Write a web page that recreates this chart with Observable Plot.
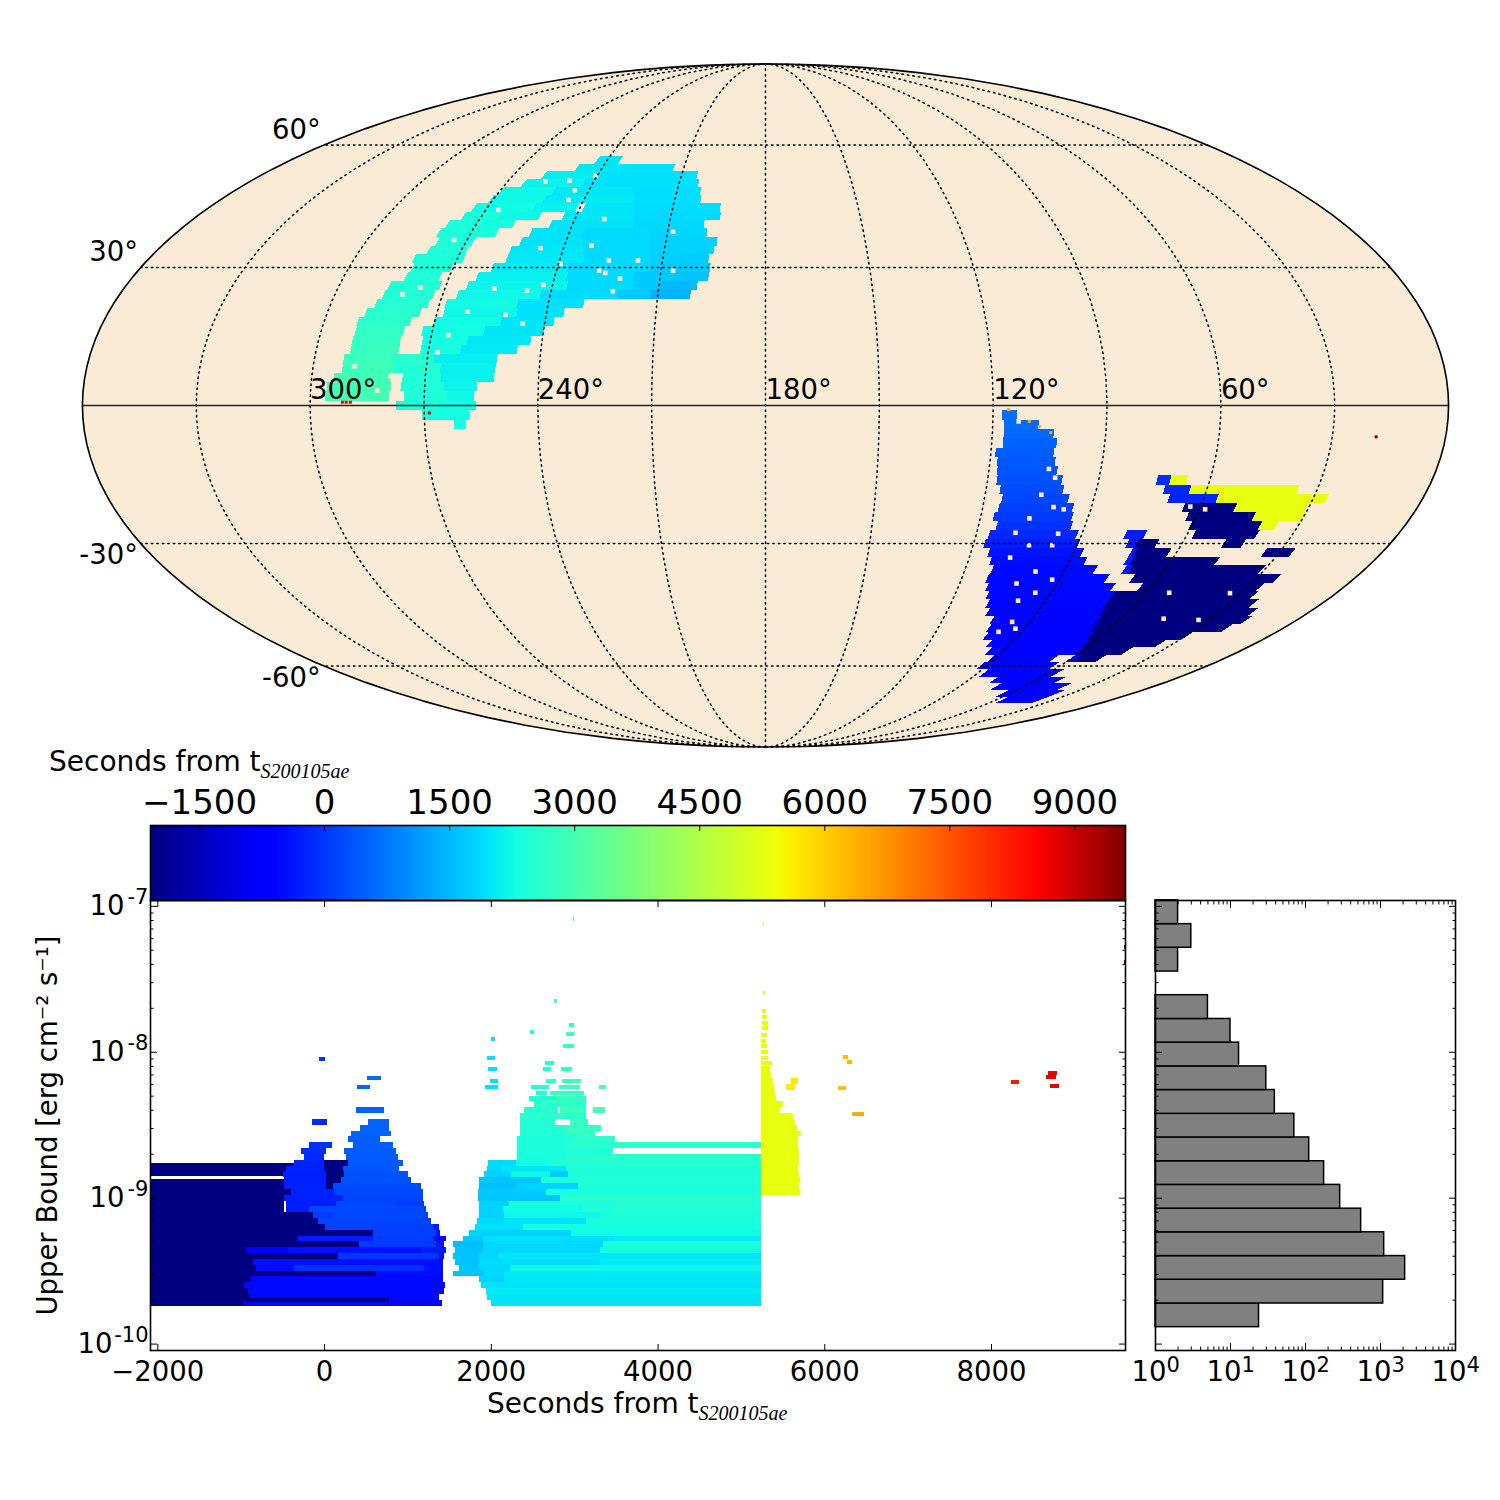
<!DOCTYPE html>
<html>
<head>
<meta charset="utf-8">
<script src="https://cdn.jsdelivr.net/npm/d3@7"></script>
<script src="https://cdn.jsdelivr.net/npm/@observablehq/plot@0.6"></script>
<style>
html,body{margin:0;padding:0;background:#fff;width:1500px;height:1500px;overflow:hidden}
#root{position:relative;width:1500px;height:1500px;font-family:'DejaVu Sans',sans-serif}
#root>svg,#root>div{position:absolute}
.lbl{font-size:28px;color:#000;white-space:nowrap;line-height:32px}
.lbl span{font-family:'Liberation Serif',serif;font-style:italic;font-size:20px;position:relative;top:7px}
</style>
</head>
<body>
<div id="root"></div>
<script>
const N = -2088; // navy end of the colour bar
// Time domain and jet colour map
const tMin = -2088, tMax = 9607;
const jetStops = [0,.11,.125,.34,.35,.375,.64,.65,.66,.89,.91,1];
const jetColors = ["#000080","#0000ff","#0000ff","#00dbff","#00e6f7","#15ffe2","#eeff08","#f7f500","#ffec00","#ff1300","#ff0000","#800000"];
const colorOpt = {type:"linear",domain:jetStops.map(f=>tMin+f*(tMax-tMin)),range:jetColors,clamp:true};

// SKY MAP: [dec, [RA breaks, descending], [time per segment, null = gap]]
const skyNorth = [
[56,[243.9,235],[2000]],
[54,[249.2,228.4,213.7],[2000,1950]],
[52,[259.1,238.9,204.4],[2100,1950]],
[50,[264,243.1,203.2],[2150,1950]],
[48,[269.6,251.6,224.5,202],[2220,2020,1920]],
[46,[270.9,253.2,223.5,201.4],[2230,2050,1920]],
[44,[274.3,254.9,240.9,238.8,222.6,194.6],[2250,2150,null,2000,1900]],
[42,[275.7,264,251.4,244,221.8,194.3],[2350,2220,null,2000,1880]],
[40,[279,268.6,258.2,246.9,220.9,199.1],[2380,2270,null,1970,1850]],
[38,[279.9,262,251.8,235.6,215.1,197.9],[2400,null,1970,1880,1820]],
[36,[278.6,267.6,253.5,234.6,214.5,194.5],[2400,null,1980,1880,1800]],
[34,[279.7,268.3,255.5,233.8,214,195.3],[2420,null,2000,1880,1780]],
[32,[282.7,268.1,255.5,233.1,213.6,203.8,196.6],[2420,null,2030,1880,1760,1700]],
[30,[281.8,270.3,258.7,237.2,213.1,195.9],[2420,null,2060,1880,1700]],
[28,[282.4,272.5,262.1,236.5,217.5,206.1,196.2],[2440,null,2120,1880,1700,1620]],
[26,[285.9,271.4,263.9,235.8,217,209.6,199.2],[2470,null,2180,1880,1700,1500]],
[24,[286.4,272.4,265.9,242.7,221.4,212,200.9],[2500,null,2220,1900,1680,1430]],
[22,[287.6,272.9,268.3,248.5,230.2],[2530,null,2250,1950]],
[20,[289.5,274.5,268.1,248,235.2],[2580,null,2200,1950]],
[18,[290.9,276.4,270.1,252,237.5],[2620,null,2250,2000]],
[16,[290.7,277.6,272.7,256,239.8],[2680,null,2280,2000]],
[14,[290.9,278,272.1,260,243],[2720,null,2300,2030]],
[12,[290.8,277.9,272.1,261.5,246.3],[2780,null,2340,2050]],
[10,[292.2,278.9,268.2,251.4],[2820,2550,2100]],
[8,[292.2,278.5,266.2,251.6],[2860,2500,2150]],
[6,[294.1,279.1,276,265.9,251.8],[2910,null,2450,2150]],
[4,[295.7,278.9,276.3,264.9,256.1],[2960,null,2450,2180]],
[2,[296,279.3,275.3,263.9,256.9],[2960,null,2420,2220]],
[0,[277.5,266.5,256.4],[2380,2250]],
[-2,[270.5,257.8],[2320]],
[-4,[262.2,259],[2320]]
];
const skyColumn = [
[-2,[117.6,113.7],[660]],[-4,[117.1,107.9],[620]],[-6,[117,103.8],[560]],[-8,[117,102.8],[500]],
[-10,[118.8,103.3],[440]],[-12,[118.1,102.6],[400]],[-14,[117.8,101.7],[350]],[-16,[117.5,99.9],[300]],
[-18,[116.2,99],[240]],[-20,[115.2,97],[170]],[-22,[115.6,95.1],[100]],[-24,[116.4,94.5],[30]],
[-26,[114.9,93.8],[-50]],[-28,[116.4,91.3],[-150]],[-30,[116.9,89.8],[-300]],[-32,[114.8,87.5],[-420]],
[-34,[113.4,85.3],[-500]],[-36,[111.9,80.9],[-520]],[-38,[112.3,75.6],[-540]],[-40,[111.1,71.9],[-550]],
[-42,[109.7,69.8],[-560]],[-44,[108.1,69.6],[-570]],[-46,[106.5,68.8],[-580]],[-48,[103.3,67.3],[-590]],
[-50,[102.4,66],[-600]],[-52,[101.4,64],[-600]],[-54,[97.9,62.4],[-600]],[-56,[95.3,60.6],[-600]],
[-58,[91.6,66.8,60.2,57.6],[-600,null,-600]],[-60,[92.5,62.6],[-600]],[-62,[87.4,56.2],[-600]],
[-64,[78.9,49.4],[-600]],[-66,[73.1,41.4],[-600]],[-68,[64.1,37.2],[-600]],[-70,[57,37.1],[-600]]
];
const skyNavy = [
[-28,[77.6,71.9],[-300]],
[-30,[75.8,73,67.2],[-350,N]],
[-32,[73.4,72,62.2,34.5,26.2],[-350,N,null,N]],
[-34,[73.4,71.5,46.3],[-350,N]],
[-36,[72.3,70.3,30.8],[-350,N]],
[-38,[67.9,23.6],[N]],[-40,[63.4,26.1],[N]],[-42,[69.8,25.2],[N]],[-44,[69.6,22.1],[N]],
[-46,[68.8,18.7],[N]],[-48,[67.3,17.1],[N]],[-50,[66,19.7],[N]],[-52,[64,29.5],[N]],
[-54,[62.4,34.8],[N]],[-56,[60.6,42.9],[N]],[-58,[57.6,48.4],[N]]
];
const skyTriangle = [
[-16,[74.3,70.7,66.2],[-100,5300]],
[-18,[71.6,64.6,35.2],[-200,5300]],
[-20,[69.6,56.3,26.2],[-200,5300]],
[-22,[64.6,50.3,30.6],[N,5300]],
[-24,[62.5,43.9,30],[N,5300]],
[-26,[60.5,40.8,36.1],[N,5300]],
[-28,[58.1,40.1],[N]],
[-30,[48,42.3],[N]]
];
// isolated sky pixels: [RA, dec, time]
const skySpecks = [[291.5,.7,8600],[290.5,.7,8600],[289.4,.7,8600],[268.6,-1.6,8600],[115.9,-.9,6400],[110.4,-3.4,6400],[107.7,-4.5,6400],[104.6,-5.8,6400],[18.4,-6.7,9600]];
// unobserved pixels inside the regions: [RA, dec]
const skyHoles = [[265.9,43.4],[244.7,48.2],[256.8,50.4],[248.6,50.6],[245,45.8],[240.5,51.8],[230.7,41.2],[208.3,38.2],[231.9,35],[246.8,34.4],[273.8,36.3],[225.6,31.6],[217.1,31.6],[239.3,30.8],[227.7,29.3],[225.8,28.8],[221.3,27.5],[206.5,29.3],[246.7,24.8],[242.5,26.1],[222.7,24.7],[256,25.3],[276.9,25.5],[281.2,24],[261.7,20.2],[251,19.5],[245.9,17.6],[265.4,15.1],[267.5,11.4],[289,8.4],[279.2,6.2],[282.4,3.2],
[113.2,-3.4],[104,-13.6],[101.9,-15.5],[104.7,-19.2],[100.5,-21.9],[97.5,-22.4],[106.3,-24.4],[109,-27.6],[96.8,-27.8],[103.9,-30.4],[97.2,-30.4],[108,-33.2],[98.6,-36.4],[92.2,-38.3],[102.5,-39.2],[95,-41.4],[98.9,-43.3],[96,-48.5],[98,-51],[93,-50.2],[52.8,-41.4],[33.5,-41.5],[45.7,-47.7],[33.4,-48],[58.4,-22.4],[62.8,-21.8]];
const raLabels = [300,240,180,120,60];
const decLabelsN = [60,30], decLabelsS = [-30,-60];
const raGrid = [30,60,90,120,150,180,210,240,270,300,330];
const decGrid = [-60,-30,30,60];

// LIGHT CURVE: [log10 upper bound, [x breaks], [time per segment]]
const lcBlocks = [[-8.761,-8.852,-2088,-356,N],[-8.871,-9.336,-2088,-476,N],[-9.336,-9.743,-2088,-816,N],[-9.69,-9.715,-936,784,N]];
const lcLeft = [
[-9.72,[-956,1416],[-560]],[-9.68,[-896,1384],[-540]],[-9.64,[-916,1444],[-520]],[-9.60,[-956,1456],[-540]],
[-9.56,[-876,1432],[-520]],[-9.52,[-936,624,1424],[N,-500]],[-9.48,[-816,-356,1204,1424],[-500,-50,-450]],
[-9.44,[-856,1424],[-450]],[-9.40,[-936,164,1384,1444],[N,0,-500]],[-9.36,[-936,-436,1164,1464],[-600,-450,-300]],
[-9.32,[-476,424,1344,1444],[N,50,-400]],[-9.28,[-476,-308,584,1324,1464],[N,-300,80,-500]],
[-9.24,[-476,584,1344,1392],[N,120,-400]],[-9.20,[-476,16,544,1304,1384],[N,150,100,-300]],
[-9.16,[-476,-76,1284],[N,150]],[-9.12,[-476,-136,104,1244],[N,50,200]],[-9.08,[-456,-176,1224],[-300,200]],
[-9.04,[-456,144,864,1204],[-300,180,50]],[-9.00,[-476,-376,224,1184],[-300,-250,150]],
[-8.96,[-476,-396,124,1184],[N,-250,200]],[-8.92,[-476,24,104,1164],[-250,N,220]],
[-8.88,[-476,24,204,1044],[-280,N,300]],[-8.84,[-496,24,244,1004],[-280,N,320]],
[-8.80,[-456,4,224,904],[-250,N,350]],[-8.76,[-356,4,284,944],[-200,N,400]],
[-8.72,[-236,-4,264,884],[-150,null,430]],[-8.68,[-276,24,244,864],[-100,null,430]],
[-8.64,[-176,96,344,824],[-100,null,480]],[-8.60,[284,672],[450]],[-8.56,[324,804],[500]],
[-8.52,[436,784],[500]],[-8.48,[-148,36,524,784],[-150,null,500]],[-8.40,[384,724],[520]]
];
const lcRight = [
[-9.72,[2008,5236],[2000]],[-9.68,[1952,5236],[2000]],[-9.64,[1944,5236],[2080]],[-9.60,[1884,5236],[1980]],
[-9.56,[1856,2164,5236],[1800,2000]],[-9.52,[1552,1924,2164,5236],[1600,1900,2050]],
[-9.48,[1616,1864,2236,5236],[1650,1850,2200]],[-9.44,[1576,1864,3304,5236],[1600,1900,2050]],
[-9.40,[1552,1844,2104,5236],[1600,1850,2000]],[-9.36,[1576,1904,3304,5236],[1600,1850,2300]],
[-9.32,[1544,1904,3344,5236],[1550,1850,2350]],[-9.28,[1672,1904,3484,5236],[1700,1950,2050]],
[-9.24,[1744,2964,5236],[1800,2250]],[-9.20,[1816,2384,5236],[1950,2300]],
[-9.16,[1832,2144,3144,5236],[1850,1950,2400]],[-9.12,[1864,2164,3304,5236],[1800,2200,2400]],
[-9.08,[1864,2152,3104,5236],[1800,2250,2500]],[-9.04,[1856,2224,3504,5236],[1800,2350,2480]],
[-9.00,[1852,2824,5236],[1650,2550]],[-8.96,[1852,2664,3064,5236],[1700,2300,2420]],
[-8.92,[1864,2304,3044,5236],[1550,1800,2420]],[-8.88,[1856,2604,3064,5236],[1650,2400,2450]],
[-8.84,[1924,2244,2704,2924,5236],[1800,2200,1700,2430]],[-8.80,[1952,2124,2904,5236],[1850,2000,2420]],
[-8.76,[1964,2304,2684,5236],[1900,2250,2500]],[-8.72,[2312,2904,5236],[2350,2550]],
[-8.68,[2312,3384,3464],[2400,2500]],[-8.64,[2312,2904,5236],[2400,2600]],
[-8.60,[2312,2984,3484],[2400,2600]],[-8.56,[2356,2864,3244],[2450,2700]],
[-8.52,[2356,2884,3324],[2500,2750]],[-8.48,[2356,2764,2944,3164],[2500,null,2800]],
[-8.44,[2356,3144],[2600]],[-8.40,[2404,2804,2824,3144,3224,3372],[2550,null,2850,null,3000]],
[-8.36,[2524,3144],[2650]],[-8.32,[2464,2744,3136],[2500,2800]]
];
const lcYellow = [
[-8.96,[5236,5704],[5300]],[-8.92,[5236,5692],[5300]],[-8.88,[5236,5704],[5300]],[-8.84,[5236,5696],[5300]],
[-8.80,[5236,5684],[5300]],[-8.76,[5236,5692],[5300]],[-8.72,[5236,5692],[5300]],[-8.68,[5236,5692],[5300]],
[-8.64,[5236,5680],[5300]],[-8.60,[5236,5680],[5300]],[-8.56,[5236,5716],[5300]],[-8.52,[5236,5672],[5300]],
[-8.48,[5236,5644],[5300]],[-8.44,[5236,5620],[5300]],[-8.40,[5236,5464],[5300]],[-8.36,[5236,5500],[5300]],
[-8.32,[5236,5416],[5300]],[-8.28,[5236,5404],[5300]],[-8.24,[5236,5392,5536,5644],[5300,null,5600]],
[-8.20,[5236,5380,5596,5680],[5300,null,5700]],[-8.16,[5236,5356],[5300]],[-8.12,[5236,5344],[5300]]
];
// isolated short detections: [log10 bound, x1, x2, time]
const lcSparse = [
[-8.24,392,552,560],[-8.18,512,684,600],[-8.05,-56,12,-50],
[-8.28,2544,2672,2500],[-8.28,2704,3112,2800],[-8.24,1936,2092,1950],[-8.24,2484,2692,2500],[-8.24,2812,3064,2800],
[-8.24,3292,3384,3000],[-8.20,1996,2092,1950],[-8.20,2664,2784,2600],[-8.20,2856,3084,2850],[-8.12,1964,2076,1950],
[-8.12,2624,2716,2500],[-8.12,2836,2976,2750],[-8.08,2644,2752,2550],[-8.04,1960,2052,1950],[-7.96,2864,2992,2800],
[-7.88,2896,2992,2800],[-7.866,2476,2524,2500],[-7.914,2008,2056,1950],[-7.818,2936,2992,2900],[-7.652,2752,2788,2800],
[-8.08,5236,5368,5300],[-8.04,5236,5320,5300],[-8.00,5236,5320,5300],[-7.96,5236,5308,5300],[-7.925,5236,5296,5300],
[-7.885,5236,5308,5300],[-7.84,5248,5320,5300],[-7.80,5248,5320,5300],[-7.76,5248,5308,5300],[-7.72,5248,5296,5300],
[-7.60,5260,5284,5300],[-7.126,5264,5272,5300],[-7.187,5500,5508,5300],[-7.31,5392,5400,5300],[-7.09,2988,2996,2800],
[-8.037,6220,6280,6250],[-8.07,6268,6328,6300],[-8.25,6160,6256,6200],[-8.427,6328,6472,6400],
[-8.208,8236,8332,8280],[-8.146,8680,8788,8730],[-8.174,8656,8776,8720],[-8.236,8704,8812,8760],
[-7.283,9592,9607,9600],[-7.386,9592,9607,9600]
];
const xTicks = [-2000,0,2000,4000,6000,8000];
const cbTicks = [-1500,0,1500,3000,4500,6000,7500,9000];
const yMajor = [1e-7,1e-8,1e-9,1e-10];
const yMinor = [-11,-10,-9,-8].flatMap(e=>[2,3,4,5,6,7,8,9].map(m=>m*10**e)).filter(v=>v>10**-10.044&&v<10**-6.96);
const histEdges = [-9.884,-9.722,-9.559,-9.397,-9.234,-9.072,-8.909,-8.747,-8.584,-8.422,-8.259,-8.097,-7.934,-7.772,-7.609,-7.447,-7.284,-7.122,-6.959];
const histCounts = [24,1085,2130,1120,552,290,177,112,71,39,30,13,10,5,0,2,3,2];
const histMajor = [1,10,100,1000,10000];
const histMinor = [0,1,2,3].flatMap(e=>[2,3,4,5,6,7,8,9].map(m=>m*10**e));

const root = document.getElementById("root");
const svgStyle = {fontFamily:"'DejaVu Sans',sans-serif",background:"transparent",overflow:"visible",color:"#000"};
function place(el,left,top){el.style.left=left+"px";el.style.top=top+"px";el.style.position="absolute";root.appendChild(el);return el;}

// ---- Mollweide sky map
function mollweideRaw(l,p){
  const k=Math.PI*Math.sin(p);let t=p;
  for(let i=0;i<40;i++){const d=(t*2+Math.sin(2*t)-k)/(2+2*Math.cos(2*t)+1e-12);t-=d;if(Math.abs(d)<1e-9)break;}
  return [2*Math.SQRT2/Math.PI*l*Math.cos(t),Math.SQRT2*Math.sin(t)];
}
const projection = d3.geoProjection(mollweideRaw).rotate([-180,0]).reflectX(true).scale(241.5).translate([765,405]).precision(.3);
function expandRows(rows){
  const out=[];
  for(const [dec,br,ts] of rows) ts.forEach((t,i)=>{ if(t!==null) out.push({dec,hi:br[i],lo:br[i+1],t}); });
  return out;
}
function cellFeature(c){
  const lo=c.lo,hi=c.hi,a=c.dec-1,b=c.dec+1,top=[],bot=[];
  const n=Math.max(1,Math.ceil((hi-lo)/2));
  for(let i=0;i<=n;i++){const r=lo+(hi-lo)*i/n;top.push([r,b]);bot.unshift([r,a]);}
  return {type:"Feature",properties:{t:c.t},geometry:{type:"Polygon",coordinates:[[...top,...bot,top[0]]]}};
}
const cells=[...skyNorth,...skyColumn,...skyNavy,...skyTriangle].flatMap(r=>expandRows([r])).map(cellFeature);
const dense=d3.range(0,361,2);
const gratLines={type:"MultiLineString",coordinates:[
  ...raGrid.map(r=>[[r,-90],[r,-45],[r,0],[r,45],[r,90]]),
  ...decGrid.map(d=>dense.map(r=>[Math.min(Math.max(r,.01),359.99),d]))
]};
const equator={type:"LineString",coordinates:dense.map(r=>[Math.min(Math.max(r,.01),359.99),0])};
const sky=Plot.plot({
  width:1500,height:760,margin:0,projection,color:colorOpt,style:svgStyle,
  marks:[
    Plot.sphere({fill:"#faebd7",stroke:"none"}),
    Plot.geo(cells,{fill:d=>d.properties.t,shapeRendering:"crispEdges"}),
    Plot.dot(skyHoles,{x:"0",y:"1",r:2.6,symbol:"square",fill:"#faebd7"}),
    Plot.dot(skySpecks,{x:"0",y:"1",r:1.7,symbol:"square",fill:"2"}),
    Plot.geo(gratLines,{stroke:"#000",strokeWidth:1.5,strokeDasharray:"1.5,4",fill:"none"}),
    Plot.geo(equator,{stroke:"#222",strokeWidth:1.6,fill:"none"}),
    Plot.sphere({stroke:"#000",strokeWidth:1.6}),
    Plot.text(raLabels,{x:d=>d,y:()=>0,text:d=>d+"°",textAnchor:"start",dy:-15,dx:0,fontSize:27.5,fill:"#000"}),
    Plot.text(decLabelsN,{x:()=>359.9,y:d=>d,text:d=>d+"°",textAnchor:"end",dx:-3,dy:-15,fontSize:27.5,fill:"#000"}),
    Plot.text(decLabelsS,{x:()=>359.9,y:d=>d,text:d=>d+"°",textAnchor:"end",dx:-3,dy:12,fontSize:27.5,fill:"#000"})
  ]
});
place(sky,0,0);

// ---- Colour bar
const cbValues=d3.range(tMin,tMax,12);
const cb=Plot.plot({
  width:1140,height:132,marginLeft:150,marginRight:15,marginTop:55,marginBottom:2,color:colorOpt,style:svgStyle,
  x:{domain:[tMin,tMax],axis:null},y:{domain:[0,1],axis:null},
  marks:[
    Plot.rect(cbValues,{x1:d=>d,x2:d=>d+12,y1:()=>0,y2:()=>1,fill:d=>d,shapeRendering:"crispEdges"}),
    Plot.axisX(cbTicks,{anchor:"top",tickSize:-5,fill:"none"}),
    Plot.text(cbTicks,{x:d=>d,frameAnchor:"top",dy:-36,text:d=>(d<0?"−":"")+Math.abs(d),fontSize:34,fill:"#000"}),
    Plot.frame({stroke:"#000",strokeWidth:1.6})
  ]
});
place(cb,0,770);

// ---- Light curve panel
const yDom=[10**-10.044,10**-6.96];
function expandLc(rows){
  const out=[];
  for(const [v,br,ts] of rows) ts.forEach((t,i)=>{ if(t!==null) out.push({y1:10**(v-.02),y2:10**(v+.02),x1:br[i],x2:br[i+1],t}); });
  return out;
}
const lcBars=[
  ...lcBlocks.map(([a,b,x1,x2,t])=>({y1:10**b,y2:10**a,x1,x2,t})),
  ...expandLc(lcLeft),...expandLc(lcRight),...expandLc(lcYellow),
  ...lcSparse.map(([v,x1,x2,t])=>({y1:10**(v-.0137),y2:10**(v+.0137),x1,x2,t}))
];
// the thin dark stripe must sit above the bright rows
const stripe=lcBlocks.slice(3).map(([a,b,x1,x2,t])=>({y1:10**b,y2:10**a,x1,x2,t}));
function logLabels(major,baseDx,expDx){
  return [
    Plot.text(major,{y:d=>d,frameAnchor:"left",text:()=>"10",textAnchor:"end",dx:baseDx,fontSize:27.5,fill:"#000"}),
    Plot.text(major,{y:d=>d,frameAnchor:"left",text:d=>String(Math.round(Math.log10(d))),textAnchor:"end",dx:expDx,dy:-9,fontSize:21,fill:"#000"})
  ];
}
const lc=Plot.plot({
  width:1140,height:560,marginLeft:150,marginRight:15,marginTop:20,marginBottom:90,color:colorOpt,style:svgStyle,
  x:{domain:[tMin,tMax],axis:null},y:{type:"log",domain:yDom,axis:null},
  marks:[
    Plot.rect(lcBars,{x1:"x1",x2:"x2",y1:"y1",y2:"y2",fill:"t",clip:true,shapeRendering:"crispEdges"}),
    Plot.rect(stripe,{x1:"x1",x2:"x2",y1:"y1",y2:"y2",fill:"t",clip:true,shapeRendering:"crispEdges"}),
    Plot.axisX(xTicks,{anchor:"top",tickSize:-6,fill:"none"}),
    Plot.axisX(xTicks,{anchor:"bottom",tickSize:-6,fill:"none"}),
    Plot.axisY(yMajor,{anchor:"left",tickSize:-7,fill:"none"}),
    Plot.axisY(yMajor,{anchor:"right",tickSize:-7,fill:"none"}),
    Plot.axisY(yMinor,{anchor:"left",tickSize:-3.5,fill:"none"}),
    Plot.axisY(yMinor,{anchor:"right",tickSize:-3.5,fill:"none"}),
    Plot.text(xTicks,{x:d=>d,frameAnchor:"bottom",dy:30,text:d=>(d<0?"−":"")+Math.abs(d),fontSize:27.5,fill:"#000"}),
    ...logLabels(yMajor.slice(0,3),-26,-2),
    ...logLabels(yMajor.slice(3),-38,-2),
    Plot.text(["Upper Bound [erg cm⁻² s⁻¹]"],{frameAnchor:"left",rotate:-90,textAnchor:"middle",dx:-102,text:d=>d,fontSize:27.5,fill:"#000"}),
    Plot.frame({stroke:"#000",strokeWidth:1.6})
  ]
});
place(lc,0,880);

// ---- Histogram
const histBars=histCounts.map((c,i)=>({c,y1:10**histEdges[i],y2:10**histEdges[i+1]})).filter(d=>d.c>0);
const hist=Plot.plot({
  width:375,height:560,marginLeft:30,marginRight:45,marginTop:20,marginBottom:90,style:svgStyle,
  x:{type:"log",domain:[1,1e4],axis:null},y:{type:"log",domain:yDom,axis:null},
  marks:[
    Plot.rect(histBars,{x1:()=>1,x2:"c",y1:"y1",y2:"y2",fill:"#808080",stroke:"#000",strokeWidth:1.5}),
    Plot.axisX(histMajor,{anchor:"top",tickSize:-7,fill:"none"}),
    Plot.axisX(histMajor,{anchor:"bottom",tickSize:-7,fill:"none"}),
    Plot.axisX(histMinor,{anchor:"top",tickSize:-3.5,fill:"none"}),
    Plot.axisX(histMinor,{anchor:"bottom",tickSize:-3.5,fill:"none"}),
    Plot.axisY(yMajor,{anchor:"left",tickSize:-7,fill:"none"}),
    Plot.axisY(yMajor,{anchor:"right",tickSize:-7,fill:"none"}),
    Plot.axisY(yMinor,{anchor:"left",tickSize:-3.5,fill:"none"}),
    Plot.axisY(yMinor,{anchor:"right",tickSize:-3.5,fill:"none"}),
    Plot.text(histMajor,{x:d=>d,frameAnchor:"bottom",dy:30,dx:-24,textAnchor:"start",text:()=>"10",fontSize:27.5,fill:"#000"}),
    Plot.text(histMajor,{x:d=>d,frameAnchor:"bottom",dy:21,dx:11,textAnchor:"start",text:d=>String(Math.round(Math.log10(d))),fontSize:21,fill:"#000"}),
    Plot.frame({stroke:"#000",strokeWidth:1.6})
  ]
});
place(hist,1125,880);

// ---- Axis titles
for(const [left,top] of [[49,746],[487,1388]]){
  const d=document.createElement("div");d.className="lbl";
  d.innerHTML="Seconds from t<span>S200105ae</span>";
  place(d,left,top);
}
</script>
</body>
</html>
